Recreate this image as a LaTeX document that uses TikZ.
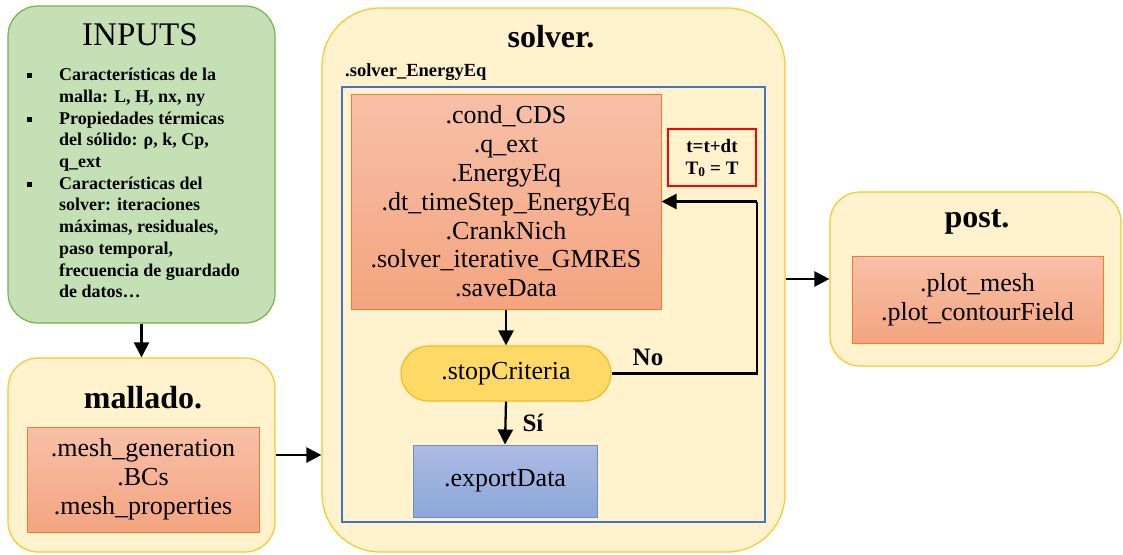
\documentclass[tikz,border=0pt]{standalone}
\usepackage{fontspec}
\setmainfont{Liberation Serif}
\usetikzlibrary{arrows.meta}

\definecolor{paleyellow}{RGB}{255,242,204}
\definecolor{goldline}{RGB}{250,198,40}
\definecolor{palegreen}{RGB}{197,224,180}
\definecolor{greenline}{RGB}{120,176,80}
\definecolor{salmontop}{RGB}{247,192,168}
\definecolor{salmonbot}{RGB}{244,164,127}
\definecolor{salmonline}{RGB}{237,125,49}
\definecolor{stopfill}{RGB}{255,217,102}
\definecolor{stopline}{RGB}{240,188,30}
\definecolor{bluetop}{RGB}{171,187,227}
\definecolor{bluebot}{RGB}{140,167,218}
\definecolor{blueline}{RGB}{108,142,191}
\definecolor{frameblue}{RGB}{68,114,196}

% square list marker hanging left of the text
\newcommand\sqmark{\makebox[0pt][r]{\rule[2.5pt]{5pt}{5pt}\hspace{27pt}}}

\begin{document}
\begin{tikzpicture}[x=1pt,y=-1pt,
  module/.style={draw=goldline, line width=1.2pt, fill=paleyellow, rounded corners=30pt, inner sep=0pt},
  funcbox/.style={draw=salmonline, line width=1pt, top color=salmontop, bottom color=salmonbot, inner sep=0pt},
  title/.style={font=\fontsize{32}{36}\selectfont\bfseries, inner sep=0pt},
  functext/.style={font=\fontsize{26}{28.8}\selectfont, align=center, inner sep=0pt},
  flow/.style={line width=2.3pt, -{Triangle[length=15pt,width=15pt]}},
  loopline/.style={line width=2.3pt},
  tag/.style={font=\fontsize{25}{27}\selectfont\bfseries, inner sep=0pt}]

\useasboundingbox (0,0) rectangle (1123,554);

% ---- inputs ----
\node[draw=greenline, line width=1.2pt, fill=palegreen, rounded corners=30pt,
      minimum width=267pt, minimum height=317pt] (inputs) at (141.5,164.5) {};
\node[font=\fontsize{33}{36}\selectfont, inner sep=0pt] (inputstitle) at (140,35) {INPUTS};
\node[font=\fontsize{18}{21.7}\selectfont\bfseries, align=left, anchor=north west, inner sep=0pt]
  (inputlist) at (59,68) {%
  \sqmark Características de la\\
  malla: L, H, nx, ny\\
  \sqmark Propiedades térmicas\\
  del sólido: ρ, k, Cp,\\
  q\_ext\\
  \sqmark Características del\\
  solver: iteraciones\\
  máximas, residuales,\\
  paso temporal,\\
  frecuencia de guardado\\
  de datos…};

% ---- mallado ----
\node[module, minimum width=267pt, minimum height=194pt] (mallado) at (141.5,455) {};
\node[title] (malladotitle) at (143,398) {mallado.};
\node[funcbox, minimum width=232pt, minimum height=105pt] (meshfuncs) at (143,479.5) {};
\node[functext] (meshtext) at (143,479.5) {.mesh\_generation\\.BCs\\.mesh\_properties};

% ---- solver ----
\node[module, rounded corners=58pt, minimum width=463pt, minimum height=544pt] (solver) at (553.5,280) {};
\node[title] (solvertitle) at (551,37) {solver.};
\node[font=\fontsize{18.5}{20}\selectfont\bfseries, anchor=west, inner sep=0pt] (energylabel) at (345,72) {.solver\_EnergyEq};
\node[draw=frameblue, line width=2.4pt, minimum width=423pt, minimum height=435pt, inner sep=0pt] (energy) at (553.5,304.5) {};

\node[funcbox, minimum width=310pt, minimum height=215pt] (cds) at (506,201.5) {};
\node[functext] (cdstext) at (506,201.5) {.cond\_CDS\\.q\_ext\\.EnergyEq\\.dt\_timeStep\_EnergyEq\\.CrankNich\\.solver\_iterative\_GMRES\\.saveData};

\node[draw=red, line width=2.4pt, minimum width=88pt, minimum height=57pt, inner sep=0pt] (update) at (712,157.5) {};
\node[font=\fontsize{19}{22}\selectfont\bfseries, align=center, inner sep=0pt] (updatetext) at (712,158)
  {t=t+dt\\T\textsubscript{0} = T};

\node[draw=stopline, line width=1.2pt, fill=stopfill, rounded corners=27.5pt,
      minimum width=210pt, minimum height=55pt, inner sep=0pt] (stop) at (506,373.5) {};
\node[functext] (stoptext) at (506,373.5) {.stopCriteria};

\node[draw=blueline, line width=1pt, top color=bluetop, bottom color=bluebot,
      minimum width=184pt, minimum height=72pt, inner sep=0pt] (export) at (505,481) {};
\node[functext] (exporttext) at (505,481) {.exportData};

\coordinate (loopx) at (757,0);
\draw[flow] (cds.south) -- (stop.north);
\draw[flow] (stop.south) -- (export.north);
\draw[loopline] (stop.east) -| (loopx |- cds.east);
\draw[flow] (loopx |- cds.east) -- (cds.east);
\node[tag] (nolabel) at (648,357) {No};
\node[tag] (silabel) at (533,423) {Sí};

% ---- post ----
\node[module, minimum width=291pt, minimum height=174pt] (post) at (975.5,279) {};
\node[title] (posttitle) at (977,222) {post.};
\node[funcbox, minimum width=251pt, minimum height=87pt] (plotfuncs) at (977.5,299.5) {};
\node[functext] (plottext) at (977.5,299.5) {.plot\_mesh\\.plot\_contourField};

% ---- links between modules ----
\draw[flow] (inputs.south) -- (mallado.north);
\draw[flow] (mallado.east) -- (solver.west |- mallado.east);
\draw[flow] (solver.east |- post.west) -- (post.west);

\end{tikzpicture}
\end{document}
